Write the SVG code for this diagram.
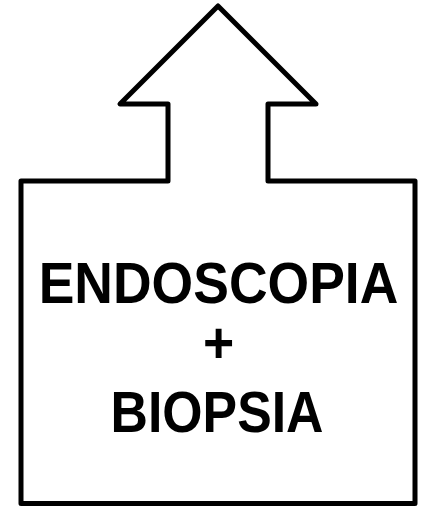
<svg xmlns="http://www.w3.org/2000/svg" width="423" height="506" viewBox="0 0 423 506">
<style>
.outline{fill:#fff;stroke:#000;stroke-width:5;stroke-linejoin:round}
.lbl{font-family:"Liberation Sans",Arial,sans-serif;font-weight:bold;font-size:53.5px;fill:#000;text-anchor:middle}
</style>
<rect width="423" height="506" fill="#fff"/>
<g id="arrow-box">
<polygon class="outline" points="218,6 120,104 168,104 168,181 21,181 21,503.5 415,503.5 415,181 268,181 268,104 316,104"/>
<text class="lbl" transform="translate(218.5,303) scale(1,1.085)" x="0" y="0">ENDOSCOPIA</text>
<text class="lbl" transform="translate(218.5,362.5) scale(1,1.085)" x="0" y="0">+</text>
<text class="lbl" transform="translate(217,431.5) scale(1,1.085)" x="0" y="0" textLength="213" lengthAdjust="spacingAndGlyphs">BIOPSIA</text>
</g>
</svg>
